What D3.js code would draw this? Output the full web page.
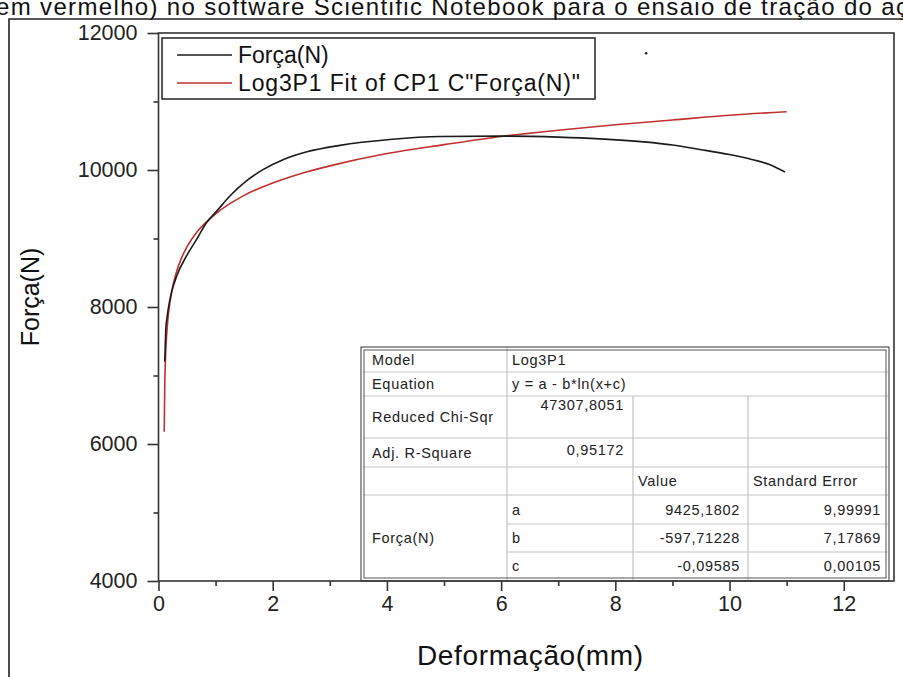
<!DOCTYPE html>
<html>
<head>
<meta charset="utf-8">
<script src="https://cdn.jsdelivr.net/npm/d3@7"></script>
<style>
  body { margin: 0; background: #fff; }
  svg { display: block; font-family: "Liberation Sans", Arial, sans-serif; }
</style>
</head>
<body>
<svg id="chart" width="903" height="677"></svg>
<script>
var forcaX = [0.11, 0.13, 0.15, 0.17, 0.23, 0.32, 0.49, 0.67, 0.84, 1.02, 1.25, 1.54, 1.83, 2.18, 2.6, 3.18, 4.05, 4.93, 6.0, 7.0, 7.73, 8.5, 9.0, 9.48, 10.0, 10.36, 10.7, 10.97];
var forcaY = [7200, 7700, 7850, 7970, 8220, 8455, 8745, 8990, 9230, 9400, 9620, 9840, 10005, 10150, 10265, 10360, 10445, 10490, 10495, 10480, 10455, 10410, 10365, 10300, 10225, 10160, 10080, 9970];

// Log3P1 fit curve
var fitX = [0.10, 0.11, 0.12, 0.14, 0.17, 0.2, 0.25, 0.3, 0.4, 0.5, 0.67, 0.85, 1.0, 1.5, 2, 2.5, 3, 4, 5, 6, 7, 8, 9, 10, 11];
var fitY = [6180, 6880, 7200, 7560, 7870, 8070, 8300, 8470, 8710, 8880, 9090, 9250, 9360, 9630, 9810, 9950, 10060, 10240, 10370, 10490, 10580, 10660, 10730, 10800, 10850];

// stray point near the top
var strayX = [8.54];
var strayY = [11705];

var xTicks = [0, 2, 4, 6, 8, 10, 12];
var xMinor = [1, 3, 5, 7, 9, 11];
var yTicks = [4000, 6000, 8000, 10000, 12000];
var yMinor = [5000, 7000, 9000, 11000];

var legendLabels = ["Força(N)", "Log3P1 Fit of CP1 C\"Força(N)\""];
var legendColors = ["#1b1b1b", "#c0302f"];

var caption = "em vermelho) no software Scientific Notebook para o ensaio de tração do aç";
var xTitle = "Deformação(mm)";
var yTitle = "Força(N)";

// fit report table
var modelName = "Log3P1";
var equationText = "y = a - b*ln(x+c)";
var chiSqr = "47307,8051";
var adjR2 = "0,95172";
var paramNames = ["a", "b", "c"];
var paramValues = ["9425,1802", "-597,71228", "-0,09585"];
var paramErrors = ["9,99991", "7,17869", "0,00105"];

var svg = d3.select("#chart");

var x = d3.scaleLinear().domain([0, 12.88]).range([158.5, 894]);
var y = d3.scaleLinear().domain([4000, 12000]).range([581, 33]);

// caption cut off at the top of the screenshot
svg.append("text")
  .attr("x", -4).attr("y", 15)
  .attr("font-size", 24)
  .attr("textLength", 912)
  .attr("fill", "#111")
  .text(caption);

// screenshot frame
svg.append("path")
  .attr("d", "M9,677V19H903")
  .attr("fill", "none").attr("stroke", "#222").attr("stroke-width", 1.6);

// frame of the plot
svg.append("rect")
  .attr("x", x(0)).attr("y", y(12000))
  .attr("width", x(12.88) - x(0)).attr("height", y(4000) - y(12000))
  .attr("fill", "none").attr("stroke", "#333").attr("stroke-width", 1.6);

// axes
var fmt = d3.format("d");
var xAxis = svg.append("g").attr("transform", "translate(0," + y(4000) + ")")
  .call(d3.axisBottom(x).tickValues(xTicks).tickFormat(fmt).tickSize(10).tickSizeOuter(0).tickPadding(5));
var xAxisMinor = svg.append("g").attr("transform", "translate(0," + y(4000) + ")")
  .call(d3.axisBottom(x).tickValues(xMinor).tickSize(5).tickFormat(""));
var yAxis = svg.append("g").attr("transform", "translate(" + x(0) + ",0)")
  .call(d3.axisLeft(y).tickValues(yTicks).tickFormat(fmt).tickSize(11).tickSizeOuter(0).tickPadding(10));
var yAxisMinor = svg.append("g").attr("transform", "translate(" + x(0) + ",0)")
  .call(d3.axisLeft(y).tickValues(yMinor).tickSize(5).tickFormat(""));

[xAxis, xAxisMinor, yAxis, yAxisMinor].forEach(function(g) {
  g.select(".domain").remove();
  g.selectAll("line").attr("stroke", "#333").attr("stroke-width", 1.6);
  g.selectAll("text").attr("font-size", 21.5).attr("fill", "#222")
    .attr("font-family", "Liberation Sans, Arial, sans-serif");
});

svg.append("text")
  .attr("x", 530).attr("y", 665)
  .attr("text-anchor", "middle")
  .attr("font-size", 28)
  .attr("textLength", 226)
  .attr("fill", "#111")
  .text(xTitle);

svg.append("text")
  .attr("transform", "translate(39,297) rotate(-90)")
  .attr("text-anchor", "middle")
  .attr("font-size", 25)
  .attr("fill", "#111")
  .text(yTitle);

// curves
var line = d3.line()
  .x(function(d) { return x(d[0]); })
  .y(function(d) { return y(d[1]); })
  .curve(d3.curveMonotoneX);

svg.append("path")
  .datum(d3.zip(fitX, fitY))
  .attr("d", line)
  .attr("fill", "none").attr("stroke", legendColors[1]).attr("stroke-width", 1.6);

svg.append("path")
  .datum(d3.zip(forcaX, forcaY))
  .attr("d", line)
  .attr("fill", "none").attr("stroke", legendColors[0]).attr("stroke-width", 1.6);

svg.selectAll(".stray")
  .data(d3.zip(strayX, strayY))
  .enter().append("circle")
  .attr("cx", function(d) { return x(d[0]); })
  .attr("cy", function(d) { return y(d[1]); })
  .attr("r", 1.3)
  .attr("fill", "#223");

// legend
var legend = svg.append("g");
legend.append("rect")
  .attr("x", 162).attr("y", 38).attr("width", 433).attr("height", 61)
  .attr("fill", "#fff").attr("stroke", "#222").attr("stroke-width", 1.5);
legendLabels.forEach(function(lab, i) {
  var ly = 55 + i * 28;
  legend.append("line")
    .attr("x1", 177).attr("x2", 232).attr("y1", ly).attr("y2", ly)
    .attr("stroke", legendColors[i]).attr("stroke-width", 1.4);
  var t = legend.append("text")
    .attr("x", 238).attr("y", ly + 8)
    .attr("font-size", 23)
    .attr("fill", "#111")
    .text(lab);
  if (i === 1) t.attr("textLength", 342);
});

// fit report table
var cols = [363, 507, 633, 748, 888];
var rows = [348, 372, 396, 438, 467, 495, 524, 552, 580];
var table = svg.append("g")
  .attr("font-size", 14.5)
  .attr("letter-spacing", 0.7)
  .attr("fill", "#222");

table.append("rect")
  .attr("x", cols[0]).attr("y", rows[0])
  .attr("width", cols[4] - cols[0]).attr("height", rows[8] - rows[0])
  .attr("fill", "#fff");

var grid = "#c4c4c4";
function hline(yy, x1, x2) {
  table.append("line").attr("x1", x1).attr("x2", x2).attr("y1", yy).attr("y2", yy)
    .attr("stroke", grid).attr("stroke-width", 1.2);
}
function vline(xx, y1, y2) {
  table.append("line").attr("x1", xx).attr("x2", xx).attr("y1", y1).attr("y2", y2)
    .attr("stroke", grid).attr("stroke-width", 1.2);
}
hline(rows[1], cols[0], cols[4]);
hline(rows[2], cols[0], cols[4]);
hline(rows[3], cols[0], cols[4]);
hline(rows[4], cols[0], cols[4]);
hline(rows[5], cols[0], cols[4]);
hline(rows[6], cols[1], cols[4]);
hline(rows[7], cols[1], cols[4]);
vline(cols[1], rows[0], rows[8]);
vline(cols[2], rows[2], rows[8]);
vline(cols[3], rows[2], rows[8]);

// double outer border
table.append("rect")
  .attr("x", cols[0] - 2).attr("y", rows[0] - 1)
  .attr("width", cols[4] - cols[0] + 3).attr("height", rows[8] - rows[0] + 2)
  .attr("fill", "none").attr("stroke", "#333").attr("stroke-width", 1);
table.append("rect")
  .attr("x", cols[0] + 1).attr("y", rows[0] + 2)
  .attr("width", cols[4] - cols[0] - 3).attr("height", rows[8] - rows[0] - 4)
  .attr("fill", "none").attr("stroke", "#555").attr("stroke-width", 1);

function cell(txt, xx, yy, anchor) {
  table.append("text").attr("x", xx).attr("y", yy)
    .attr("text-anchor", anchor || "start").text(txt);
}
function mid(r) { return (rows[r] + rows[r + 1]) / 2 + 5; }

cell("Model", cols[0] + 9, mid(0));
cell(modelName, cols[1] + 5, mid(0));
cell("Equation", cols[0] + 9, mid(1));
cell(equationText, cols[1] + 5, mid(1));
cell("Reduced Chi-Sqr", cols[0] + 9, mid(2));
cell(chiSqr, cols[2] - 9, rows[2] + 14, "end");
cell("Adj. R-Square", cols[0] + 9, mid(3));
cell(adjR2, cols[2] - 9, mid(3) - 3, "end");
cell("Value", cols[2] + 5, mid(4));
cell("Standard Error", cols[3] + 5, mid(4));
cell("Força(N)", cols[0] + 9, (rows[5] + rows[8]) / 2 + 5);
paramNames.forEach(function(p, i) {
  cell(p, cols[1] + 5, mid(5 + i));
  cell(paramValues[i], cols[3] - 8, mid(5 + i), "end");
  cell(paramErrors[i], cols[4] - 7, mid(5 + i), "end");
});
</script>
</body>
</html>
